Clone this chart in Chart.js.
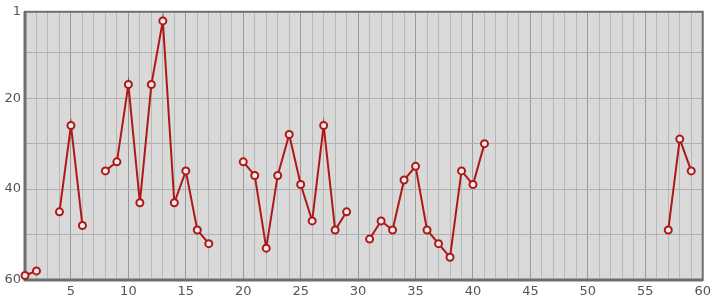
<!DOCTYPE HTML>
<html>
<head>
   <title>Chart</title>
   <script src="https://cdn.jsdelivr.net/npm/chart.js"></script>
   <style>
     body { margin: 0; background: #fff; }
     #wrap { width: 715px; height: 300px; }
   </style>
</head>
<body>
   <div id="wrap"><canvas id="myChart"></canvas></div>
   <script type="text/javascript">
      // x positions and values (null = gap)
      var xvar = [1, 2, 3, 4, 5, 6, 7, 8, 9, 10, 11, 12, 13, 14, 15, 16, 17, 18, 19, 20,
                  21, 22, 23, 24, 25, 26, 27, 28, 29, 30, 31, 32, 33, 34, 35, 36, 37, 38, 39, 40,
                  41, 42, 43, 44, 45, 46, 47, 48, 49, 50, 51, 52, 53, 54, 55, 56, 57, 58, 59];
      var yvar = [59, 58, null, 45, 26, 48, null, 36, 34, 17, 43, 17, 3, 43, 36, 49, 52, null, null, 34,
                  37, 53, 37, 28, 39, 47, 26, 49, 45, null, 51, 47, 49, 38, 35, 49, 52, 55, 36, 39,
                  30, null, null, null, null, null, null, null, null, null, null, null, null, null, null, null, 49, 29, 36];
      var yTicks = [1, 10, 20, 30, 40, 50, 60];
      var yLabels = [1, 20, 40, 60];

      var points = xvar.map(function (x, i) { return {x: x, y: yvar[i]}; });

      var framePlugin = {
         id: 'framePlugin',
         beforeDraw: function (chart) {
            var a = chart.chartArea;
            chart.ctx.save();
            chart.ctx.fillStyle = '#d9d9d9';
            chart.ctx.fillRect(a.left, a.top, a.right - a.left, a.bottom - a.top);
            chart.ctx.restore();
         },
         beforeDatasetsDraw: function (chart) {
            var a = chart.chartArea;
            var c = chart.ctx;
            c.save();
            c.strokeStyle = '#6e6e6e';
            c.lineWidth = 2;
            c.strokeRect(a.left, a.top, a.right - a.left, a.bottom - a.top);
            c.lineWidth = 3;
            c.beginPath();
            c.moveTo(a.left, a.top);
            c.lineTo(a.left, a.bottom);
            c.lineTo(a.right, a.bottom);
            c.stroke();
            c.restore();
         }
      };

      var myChart = new Chart(document.getElementById('myChart'), {
         type: 'line',
         data: {
            datasets: [{
               data: points,
               borderColor: '#b01818',
               borderWidth: 2,
               pointRadius: 3.5,
               pointBorderWidth: 2,
               pointBackgroundColor: '#eeeeee',
               pointBorderColor: '#b01818',
               spanGaps: false,
               clip: false,
               tension: 0
            }]
         },
         plugins: [framePlugin],
         options: {
            responsive: true,
            maintainAspectRatio: false,
            animation: false,
            layout: { padding: { top: 10, right: 8, left: 0, bottom: 0 } },
            plugins: { legend: { display: false }, tooltip: { enabled: false } },
            scales: {
               x: {
                  type: 'linear',
                  min: 1, max: 60,
                  afterBuildTicks: function (scale) {
                     scale.ticks = xvar.concat([60]).map(function (v) { return {value: v}; });
                  },
                  afterFit: function (scale) { scale.height = 20; },
                  grid: {
                     drawTicks: false,
                     color: function (ctx) {
                        return (ctx.tick && ctx.tick.value % 5 === 0) ? '#9a9a9a' : '#b8b8b8';
                     },
                     lineWidth: 1
                  },
                  border: { display: false },
                  ticks: {
                     autoSkip: false,
                     maxRotation: 0,
                     padding: 4,
                     color: '#555',
                     font: { family: 'DejaVu Sans', size: 13 },
                     callback: function (v) { return v % 5 === 0 ? String(v) : ''; }
                  }
               },
               y: {
                  reverse: true,
                  min: 1, max: 60,
                  afterBuildTicks: function (scale) {
                     scale.ticks = yTicks.map(function (v) { return {value: v}; });
                  },
                  afterFit: function (scale) { scale.width = 25; },
                  grid: { drawTicks: false, color: '#b0b0b0', lineWidth: 1 },
                  border: { display: false },
                  ticks: {
                     padding: 4,
                     color: '#555',
                     font: { family: 'DejaVu Sans', size: 13 },
                     callback: function (v) { return yLabels.indexOf(v) >= 0 ? String(v) : ''; }
                  }
               }
            }
         }
      });
   </script>
</body>
</html>
